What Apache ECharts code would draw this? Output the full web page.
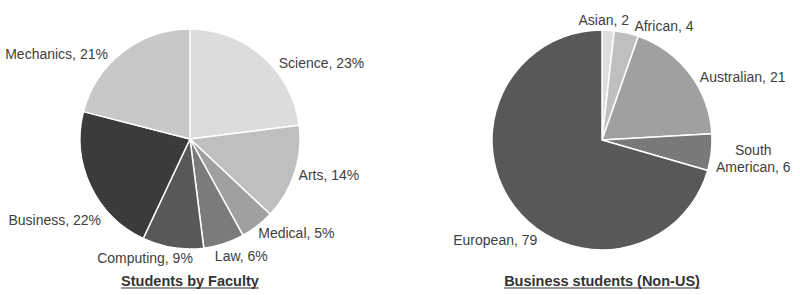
<!DOCTYPE html>
<html>
<head>
<meta charset="utf-8">
<script src="https://cdn.jsdelivr.net/npm/echarts@6/dist/echarts.min.js"></script>
<style>
html,body{margin:0;padding:0;background:#fff;}
#chart{width:800px;height:295px;}
</style>
</head>
<body>
<div id="chart"></div>
<script>
// Left pie: Students by Faculty (percent)
const facultyNames = ['Science', 'Arts', 'Medical', 'Law', 'Computing', 'Business', 'Mechanics'];
const facultyValues = [23, 14, 5, 6, 9, 22, 21];

// Right pie: Business students (Non-US) (counts)
const originNames = ['Asian', 'African', 'Australian', 'South American', 'European'];
const originValues = [2, 4, 21, 6, 79];

const titles = ['Students by Faculty', 'Business students (Non-US)'];

// ---- styles (kept apart from the data) ----
const facultyColors = ['#dcdcdc', '#bfbfc0', '#a0a0a2', '#7b7b7d', '#58585a', '#3c3a3b', '#c8c8c8'];
const originColors = ['#dedede', '#bfbfc0', '#a0a0a2', '#79797b', '#58585a'];
// small label nudges (dx, dy) to mimic the original "best fit" label placement
const facultyLabelNudge = [[3, 11], [-6, 0], [-9, 2], [-20, 6], [30, 4], [25, 32], [-2, 7]];
const originLabelNudge = [[-39, -4], [-36, -17], [1, 7], [32, 6], [37, 30]];

const FONT = '"Liberation Sans", Arial, Helvetica, sans-serif';
const TITLE_SIZE = 14.5;

const chart = echarts.init(document.getElementById('chart'), null, {renderer: 'svg', width: 800, height: 295});

function pieData(names, values, colors) {
  return names.map((n, i) => ({name: n, value: values[i], itemStyle: {color: colors[i]}}));
}

const labelBase = {
  show: true,
  position: 'outside',
  color: '#404040',
  fontFamily: FONT,
  fontSize: 14,
  lineHeight: 17,
  overflow: 'none',
  bleedMargin: 0
};

const ctx = document.createElement('canvas').getContext('2d');
ctx.font = 'bold ' + TITLE_SIZE + 'px ' + FONT;
const tw = titles.map(t => ctx.measureText(t).width);
const titleCenters = [190, 602];
const underlineY = 288;

const option = {
  backgroundColor: '#ffffff',
  animation: false,
  title: titles.map((t, i) => ({
    text: t,
    left: titleCenters[i],
    top: 273,
    textAlign: 'center',
    padding: 0,
    textStyle: {fontFamily: FONT, fontSize: TITLE_SIZE, fontWeight: 'bold', color: '#333333'}
  })),
  graphic: titles.map((t, i) => ({
    type: 'line',
    shape: {x1: titleCenters[i] - tw[i] / 2, y1: underlineY, x2: titleCenters[i] + tw[i] / 2, y2: underlineY},
    style: {stroke: '#333333', lineWidth: 1.2}
  })),
  series: [
    {
      type: 'pie',
      center: [190, 139],
      radius: 110,
      startAngle: 90,
      clockwise: true,
      avoidLabelOverlap: true,
      data: pieData(facultyNames, facultyValues, facultyColors),
      itemStyle: {borderColor: '#ffffff', borderWidth: 1.5},
      label: Object.assign({}, labelBase, {formatter: p => p.name + ', ' + p.value + '%'}),
      labelLine: {show: false, length: 6, length2: 4},
      labelLayout: p => ({dx: facultyLabelNudge[p.dataIndex][0], dy: facultyLabelNudge[p.dataIndex][1]}),
      emphasis: {disabled: true}
    },
    {
      type: 'pie',
      center: [602, 140],
      radius: 110,
      startAngle: 90,
      clockwise: true,
      avoidLabelOverlap: true,
      data: pieData(originNames, originValues, originColors),
      itemStyle: {borderColor: '#ffffff', borderWidth: 1.5},
      label: Object.assign({}, labelBase, {
        formatter: p => p.name.replace('South ', 'South\n') + ', ' + p.value
      }),
      labelLine: {show: false, length: 6, length2: 4},
      labelLayout: p => {
        const o = {dx: originLabelNudge[p.dataIndex][0], dy: originLabelNudge[p.dataIndex][1]};
        if (originNames[p.dataIndex].indexOf('\u0020') > 0) o.align = 'center';
        return o;
      },
      emphasis: {disabled: true}
    }
  ]
};
chart.setOption(option);
</script>
</body>
</html>
